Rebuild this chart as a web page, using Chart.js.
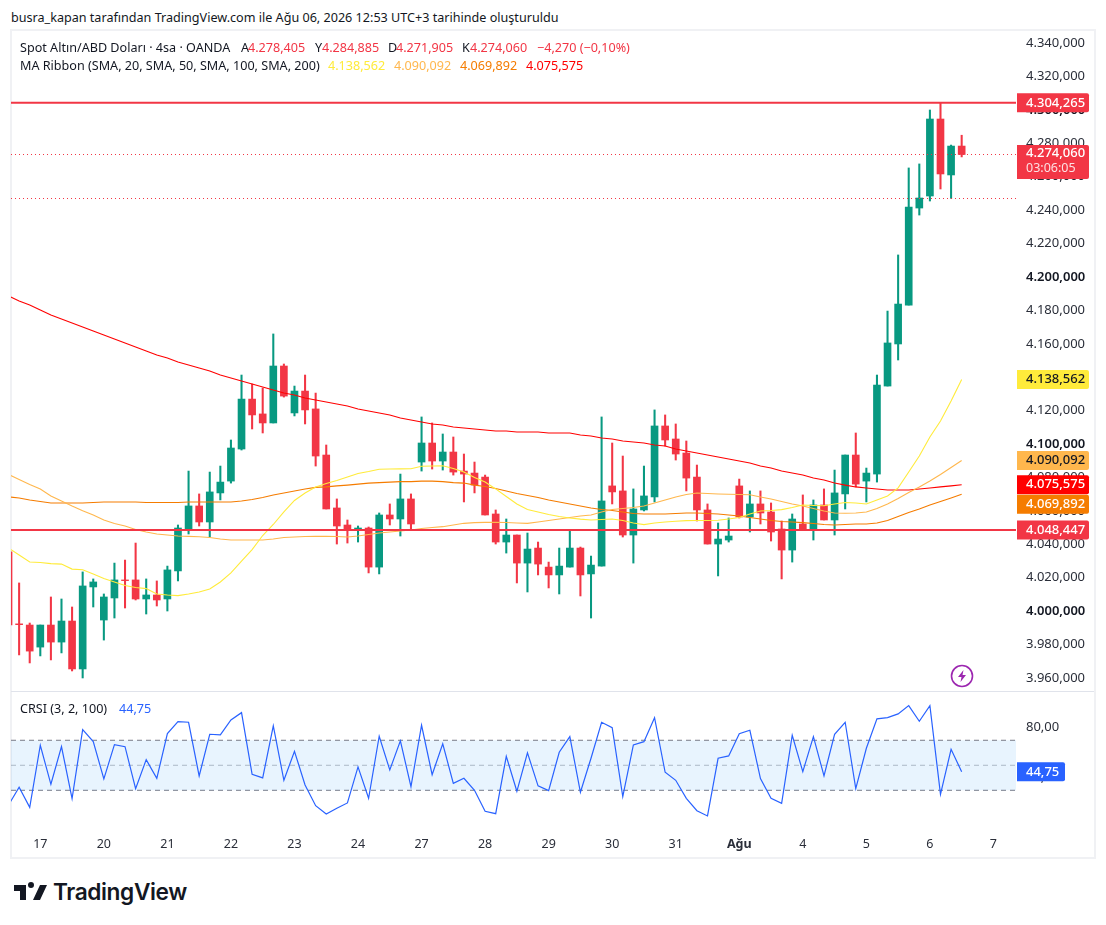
<!DOCTYPE html>
<html><head><meta charset="utf-8">
<script src="https://cdn.jsdelivr.net/npm/chart.js@4"></script>
<style>
html,body{margin:0;padding:0;background:#fff;width:1106px;height:925px;overflow:hidden;font-family:"Noto Sans",sans-serif;color:#131722}
.t{position:absolute;white-space:nowrap;font-size:12.6px;line-height:16px}
#frame{position:absolute;left:10px;top:29px;width:1082px;height:826px;border:2px solid #f0f1f4}
#sep{position:absolute;left:11px;top:691px;width:1083px;height:1px;background:#e0e3eb}
canvas{position:absolute}
#c1{left:11px;top:30px}
#c2{left:11px;top:692px}
</style></head><body>
<div class="t" id="title" style="left:11px;top:10px"></div>
<div id="frame"></div><div id="sep"></div>
<canvas id="c1" width="1084" height="661" style="width:1084px;height:661px"></canvas>
<canvas id="c2" width="1084" height="166" style="width:1084px;height:166px"></canvas>
<div id="legend"></div>
<svg style="position:absolute;left:950px;top:664px" width="24" height="24" viewBox="0 0 24 24"><circle cx="12" cy="12" r="10.5" fill="#fff" stroke="#9c27b0" stroke-width="1.6"/><path d="M13.5 6 8 13h3.5l-1 5 5.5-7h-3.5z" fill="#9c27b0"/></svg>
<svg style="position:absolute;left:12px;top:879px" width="36" height="28" viewBox="0 0 36 28"><path fill="#131722" d="M14 6H2v6h6v9h6V6Zm14 15h-7l7-15h7l-7 15Zm-6-15a3 3 0 1 1-6 0 3 3 0 0 1 6 0Z"/></svg>
<div class="t" style="left:53px;top:878px;font:600 22.7px/28px Inter,sans-serif;letter-spacing:-.4px;color:#131722">TradingView</div>
<script>
// ---------- data (prices) ----------
const firstIndex = -3;
const opens  = [4035.5,3992.3,3991.6,3978.4,3991.6,3981.4,3994.0,3965.3,4014.4,3994.6,4007.8,4018.6,4018.6,4007.2,4009.6,4007.2,4024.0,4049.1,4062.9,4053.3,4070.7,4077.8,4097.0,4126.9,4118.0,4112.6,4146.7,4118.6,4131.7,4121.0,4093.4,4061.7,4051.5,4048.1,4049.7,4026.3,4057.5,4055.1,4067.1,4089.2,4100.6,4089.8,4095.2,4083.8,4082.6,4080.2,4058.1,4041.3,4045.5,4028.7,4037.7,4026.3,4021.6,4026.3,4037.7,4022.2,4026.9,4074.9,4071.9,4045.5,4060.5,4068.3,4110.8,4103.0,4094.6,4080.2,4060.5,4040.1,4042.5,4074.9,4056.3,4064.1,4059.3,4049.1,4036.5,4052.1,4048.5,4063.5,4054.5,4070.1,4093.4,4077.8,4082.0,4134.7,4159.9,4183.2,4241.3,4248.5,4294.6,4261.1,4278.405];
const highs  = [4035.5,4016.8,3992.8,3991.6,4008.4,4007.2,4002.4,4023.4,4019.2,4010.2,4028.7,4030.5,4040.7,4019.2,4018.0,4026.9,4051.5,4083.8,4070.1,4083.2,4086.8,4102.4,4141.3,4135.9,4133.5,4165.9,4147.9,4134.7,4141.3,4130.5,4099.4,4067.1,4054.5,4050.9,4050.3,4058.7,4064.1,4082.0,4070.1,4116.2,4112.6,4106.0,4104.2,4094.0,4089.2,4081.4,4060.5,4055.1,4045.5,4046.7,4041.3,4029.3,4037.7,4047.9,4038.3,4032.9,4116.2,4100.6,4092.8,4073.1,4086.8,4120.4,4117.4,4112.0,4101.8,4087.4,4064.1,4052.7,4055.7,4079.0,4071.9,4071.9,4064.7,4053.9,4058.1,4069.5,4066.5,4073.1,4084.4,4093.4,4106.6,4085.6,4141.3,4179.6,4213.2,4265.3,4267.7,4300.0,4304.265,4279.0,4284.885];
const lows   = [3991.6,3973.7,3968.9,3973.1,3970.7,3974.9,3964.1,3959.9,4002.4,3982.6,3995.8,4001.8,4006.6,3998.2,4003.0,4000.0,4018.0,4046.1,4050.9,4044.3,4066.5,4076.6,4096.4,4109.0,4106.6,4112.6,4128.1,4116.8,4112.0,4086.8,4061.1,4040.1,4040.7,4041.3,4022.8,4022.2,4051.5,4044.9,4048.5,4083.8,4085.0,4084.4,4081.4,4065.3,4070.7,4057.5,4040.1,4034.7,4016.8,4011.4,4021.6,4013.8,4010.2,4026.3,4009.0,3995.8,4026.9,4064.1,4044.3,4028.7,4059.9,4065.3,4098.8,4090.4,4071.9,4053.9,4040.1,4021.0,4041.3,4055.7,4047.3,4052.1,4041.9,4019.2,4029.3,4048.5,4042.5,4054.5,4045.5,4061.1,4074.3,4065.3,4077.2,4134.7,4150.3,4183.2,4237.1,4245.5,4252.7,4247.1,4271.905];
const closes = [3991.6,3991.8,3976.0,3991.6,3981.4,3994.0,3965.3,4015.0,4017.4,4008.4,4018.6,4018.2,4007.2,4009.6,4006.6,4024.6,4049.7,4062.9,4053.3,4071.3,4077.2,4097.6,4126.9,4117.4,4112.6,4146.7,4128.7,4131.7,4120.4,4092.8,4061.1,4050.9,4048.5,4049.7,4026.3,4057.5,4055.1,4067.1,4052.1,4100.6,4089.8,4095.2,4083.2,4082.0,4075.4,4057.5,4041.3,4045.5,4028.7,4037.1,4028.1,4021.6,4026.9,4037.7,4021.6,4027.5,4065.9,4071.3,4045.5,4061.1,4068.9,4110.8,4102.4,4094.0,4079.6,4060.5,4040.1,4043.1,4044.9,4056.3,4064.1,4058.7,4047.3,4036.5,4055.1,4048.5,4063.5,4054.5,4070.7,4093.4,4076.0,4082.6,4135.3,4160.5,4183.8,4241.9,4247.3,4294.6,4261.7,4278.4,4273.35];
const sma20  = [4037.7,4033.5,4029.3,4029.0,4028.4,4028.1,4025.1,4024.7,4022.2,4019.5,4017.4,4015.3,4014.1,4013.4,4010.2,4009.6,4009.2,4010.2,4011.4,4013.2,4017.4,4022.8,4029.9,4036.8,4045.2,4051.8,4059.3,4066.2,4070.7,4074.3,4076.3,4078.1,4080.2,4082.3,4083.5,4084.9,4085.0,4085.1,4085.2,4086.7,4086.8,4087.0,4085.3,4083.2,4079.9,4077.2,4073.1,4068.6,4064.1,4060.8,4059.3,4057.8,4056.6,4055.7,4055.0,4054.5,4054.8,4055.1,4054.2,4052.7,4051.7,4052.7,4053.3,4053.7,4054.1,4054.2,4054.2,4054.3,4055.1,4056.0,4058.1,4059.9,4060.2,4060.7,4062.0,4063.5,4063.2,4063.0,4064.1,4065.0,4064.7,4064.1,4066.5,4068.9,4073.7,4083.2,4092.8,4104.2,4113.8,4125.7,4138.562];
const sma50  = [4081.7,4078.7,4075.7,4073.1,4068.9,4065.9,4062.9,4060.1,4057.5,4054.5,4052.4,4050.9,4048.8,4047.3,4046.1,4045.5,4044.9,4044.7,4044.5,4044.0,4043.1,4042.5,4042.5,4042.5,4042.5,4043.1,4044.0,4044.3,4044.6,4044.7,4044.7,4044.6,4044.3,4044.9,4045.8,4046.7,4047.3,4047.9,4048.5,4049.4,4050.0,4050.5,4051.5,4052.5,4052.9,4053.1,4053.1,4053.0,4052.7,4052.5,4053.3,4054.2,4055.1,4056.0,4056.9,4057.5,4059.3,4060.8,4061.4,4062.0,4062.9,4064.7,4066.5,4068.3,4069.8,4070.7,4070.4,4070.1,4069.9,4069.8,4069.6,4068.3,4067.1,4065.6,4064.1,4062.9,4061.4,4059.9,4058.7,4058.5,4058.7,4059.3,4061.4,4064.1,4067.4,4071.0,4074.3,4077.8,4081.7,4085.9,4090.092];
const sma100 = [4068.3,4067.7,4066.5,4065.6,4064.7,4064.7,4064.7,4064.7,4065.0,4065.3,4065.3,4065.3,4065.3,4065.0,4065.0,4065.0,4065.0,4065.3,4065.3,4065.3,4065.3,4065.3,4065.9,4066.8,4068.0,4069.5,4070.7,4071.9,4073.1,4074.0,4074.3,4074.9,4075.4,4076.0,4076.6,4076.9,4077.2,4077.5,4077.5,4077.8,4077.8,4077.5,4076.9,4076.6,4075.4,4074.6,4073.4,4071.9,4070.4,4069.2,4068.0,4066.5,4065.3,4064.1,4062.9,4061.7,4060.8,4060.2,4059.3,4058.4,4058.1,4058.1,4058.1,4058.4,4058.7,4058.7,4058.4,4058.1,4057.5,4056.9,4056.0,4055.1,4054.2,4053.6,4053.3,4052.9,4052.4,4051.8,4051.5,4051.8,4052.1,4052.1,4052.7,4054.2,4056.6,4059.0,4061.1,4063.5,4065.6,4067.7,4069.892];
const sma200 = [4188.6,4185.6,4183.2,4180.2,4177.2,4174.8,4172.5,4170.1,4167.7,4165.3,4162.9,4160.5,4158.1,4155.7,4153.3,4151.5,4149.1,4147.3,4145.5,4143.7,4141.3,4139.5,4137.7,4135.9,4134.1,4132.3,4130.5,4129.3,4127.5,4126.3,4125.1,4124.0,4122.8,4121.0,4119.8,4118.6,4117.4,4115.6,4114.4,4113.2,4112.0,4111.4,4110.2,4109.6,4109.0,4108.4,4107.8,4107.8,4107.2,4107.2,4107.2,4106.6,4106.6,4106.6,4105.4,4104.8,4103.6,4103.0,4101.8,4101.2,4100.6,4099.4,4098.8,4097.0,4095.8,4094.6,4093.4,4092.2,4091.0,4089.8,4088.6,4086.8,4085.6,4083.8,4082.6,4081.4,4079.6,4078.4,4076.6,4075.4,4074.3,4073.7,4073.1,4072.5,4072.5,4072.5,4073.1,4073.7,4074.3,4074.9,4075.575];
const crsi   = [18.3,32.4,16.4,66.0,34.8,64.9,23.3,78.5,68.9,39.1,66.5,64.9,31.3,54.5,39.6,75.3,84.9,84.4,41.5,74.8,74.3,86.3,92.1,42.8,39.9,81.5,38.0,61.2,34.3,17.7,11.1,15.6,19.9,48.7,23.6,73.2,46.3,69.5,32.9,82.0,42.5,67.1,35.6,39.6,30.0,13.2,11.3,57.2,29.2,59.9,33.5,29.7,60.4,72.9,28.4,55.6,84.4,80.1,24.9,66.3,68.9,88.1,44.4,38.0,23.6,13.7,9.5,55.6,57.5,75.3,78.0,39.3,23.6,19.6,74.0,44.9,72.9,41.5,74.8,84.4,31.3,63.6,87.1,88.1,91.1,97.7,85.2,97.7,26.8,62.8,44.75];
const priceTicks = [3960,3980,4000,4020,4040,4060,4080,4100,4120,4140,4160,4180,4200,4220,4240,4260,4280,4300,4320,4340];
const crsiTicks = [40,80];
const crsiBand = [70,50,30];
const dayTicks = [0,6,12,18,24,30,36,42,48,54,60,66,72,78,84,90];
const dayLabels = ['17','20','21','22','23','24','27','28','29','30','31','Ağu','4','5','6','7'];
const levelHigh = 4304.265, levelLow = 4048.447, lastClose = 4274.06, closeLine = 4273.35, dottedLow = 4247.0, lastCrsi = 44.75;
const titleText = 'busra_kapan tarafından TradingView.com ile Ağu 06, 2026 12:53 UTC+3 tarihinde oluşturuldu';

// ---------- style / layout ----------
const UP='#089981', DOWN='#F23645', Y20='#FFEB3B', O50='#FFB74D', O100='#F57C00', R200='#FF0000', BLUE='#2962FF';
const FONT='"Noto Sans",sans-serif';
const xMin=-2.767, xMax=92.13;
const fmt=v=>v.toLocaleString('tr-TR',{minimumFractionDigits:3,maximumFractionDigits:3});
const idx=opens.map((_,k)=>k+firstIndex);
const colors=opens.map((o,k)=>closes[k]>=o?UP:DOWN);
const lineDs=(arr,c)=>({type:'line',data:arr.map((v,k)=>({x:idx[k],y:v})),borderColor:c,borderWidth:1.1,pointRadius:0,tension:0,order:1});
const hLine=(v,c,w,dash)=>({type:'line',data:[{x:xMin,y:v},{x:xMax,y:v}],borderColor:c,borderWidth:w,borderDash:dash||[],pointRadius:0,order:0});

function noPad(s){s.paddingTop=0;s.paddingBottom=0;s.paddingLeft=0;s.paddingRight=0;}
function rr(c,x,y,w,h){c.beginPath();c.roundRect(x,y,w,h,[0,2,2,0]);c.fill();}
const priceLabels=[
 {v:levelHigh,bg:DOWN,fg:'#fff'},
 {v:sma20[sma20.length-1],bg:Y20,fg:'#131722'},
 {v:sma50[sma50.length-1],bg:O50,fg:'#131722'},
 {v:sma200[sma200.length-1],bg:'#FF0000',fg:'#fff'},
 {v:sma100[sma100.length-1],bg:O100,fg:'#fff',dy:10},
 {v:levelLow,bg:DOWN,fg:'#fff'}
];
const labelPlugin={id:'labels',afterDraw(ch){
  const c=ch.ctx,s=ch.scales.y,L=ch.chartArea.right+1,W=72;
  c.save();c.textBaseline='middle';c.textAlign='left';c.font='500 13px '+FONT;
  priceLabels.forEach(p=>{const y=s.getPixelForValue(p.v)+(p.dy||0);
    c.fillStyle=p.bg;rr(c,L,y-9.5,W,19);c.fillStyle=p.fg;c.fillText(fmt(p.v),L+9,y);});
  const y=s.getPixelForValue(closeLine);
  c.fillStyle=DOWN;rr(c,L,y-9.5,W,34);
  c.fillStyle='#fff';c.fillText(fmt(lastClose),L+9,y-1);
  c.font='12.5px '+FONT;c.fillStyle='#fde0e3';c.fillText('03:06:05',L+9,y+14);
  c.restore();
}};
const crsiLabel={id:'crsiLabel',afterDraw(ch){
  const c=ch.ctx,s=ch.scales.y,L=ch.chartArea.right+1,y=s.getPixelForValue(lastCrsi);
  c.save();c.fillStyle=BLUE;rr(c,L,y-9.5,48,19);c.fillStyle='#fff';c.font='500 13px '+FONT;c.textBaseline='middle';c.fillText('44,75',L+9,y);c.restore();
}};

new Chart(document.getElementById('c1'),{
 data:{datasets:[
  {type:'bar',data:idx.map((x,k)=>({x,y:[lows[k],highs[k]]})),backgroundColor:colors,barThickness:1.4,grouped:false,order:3},
  {type:'bar',data:idx.map((x,k)=>({x,y:[Math.min(opens[k],closes[k]),Math.max(opens[k],closes[k])]})),backgroundColor:colors,barThickness:7,grouped:false,order:2},
  lineDs(sma20,Y20),lineDs(sma50,O50),lineDs(sma100,O100),lineDs(sma200,R200),
  hLine(levelHigh,DOWN,2),hLine(levelLow,DOWN,2),
  hLine(closeLine,DOWN,1,[1,3]),hLine(dottedLow,DOWN,1,[1,3])
 ]},
 plugins:[labelPlugin],
 options:{responsive:false,animation:false,devicePixelRatio:1,events:[],
  layout:{padding:0},
  plugins:{legend:{display:false},tooltip:{enabled:false}},
  scales:{
   x:{type:'linear',min:xMin,max:xMax,offset:false,display:false,grid:{display:false}},
   y:{type:'linear',position:'right',min:3952.1,max:4347.9,
      afterBuildTicks(s){s.ticks=priceTicks.map(v=>({value:v}));},
      afterFit(s){s.width=79;noPad(s);},
      grid:{display:false,drawTicks:false},border:{display:false},
      ticks:{padding:10,autoSkip:false,mirror:false,callback:v=>fmt(v),
        color:c=>c.tick&&c.tick.value%100===0?'#131722':'#2a2e39',
        font:c=>({family:FONT,size:13,weight:c.tick&&c.tick.value%100===0?'600':'400'})}}
  }}
});

new Chart(document.getElementById('c2'),{
 data:{datasets:[
  {type:'line',data:idx.map((x,k)=>({x,y:crsi[k]})),borderColor:BLUE,borderWidth:1.2,pointRadius:0,tension:0,order:0},
  {type:'line',data:[{x:xMin,y:crsiBand[0]},{x:xMax,y:crsiBand[0]}],borderColor:'#787B86',borderWidth:1,borderDash:[5,4],pointRadius:0,fill:{target:{value:crsiBand[2]},above:'rgba(33,150,243,0.1)',below:'rgba(33,150,243,0.1)'},order:2},
  {type:'line',data:[{x:xMin,y:crsiBand[1]},{x:xMax,y:crsiBand[1]}],borderColor:'rgba(120,123,134,0.5)',borderWidth:1,borderDash:[5,4],pointRadius:0,order:2},
  {type:'line',data:[{x:xMin,y:crsiBand[2]},{x:xMax,y:crsiBand[2]}],borderColor:'#787B86',borderWidth:1,borderDash:[5,4],pointRadius:0,order:2}
 ]},
 plugins:[crsiLabel],
 options:{responsive:false,animation:false,devicePixelRatio:1,events:[],
  layout:{padding:0},
  plugins:{legend:{display:false},tooltip:{enabled:false}},
  scales:{
   x:{type:'linear',min:xMin,max:xMax,
      afterBuildTicks(s){s.ticks=dayTicks.map(v=>({value:v}));},
      afterFit(s){s.height=28;noPad(s);},
      grid:{display:false,drawTicks:false},border:{display:false},
      ticks:{autoSkip:false,maxRotation:0,padding:7,callback:v=>dayLabels[dayTicks.indexOf(v)],
        color:'#2a2e39',
        font:c=>({family:FONT,size:12.5,weight:c.tick&&c.tick.value===66?'700':'400'})}},
   y:{type:'linear',position:'right',min:-1.76,max:108.6,
      afterBuildTicks(s){s.ticks=crsiTicks.map(v=>({value:v}));},
      afterFit(s){s.width=79;noPad(s);},
      grid:{display:false,drawTicks:false},border:{display:false},
      ticks:{padding:10,color:'#2a2e39',font:{family:FONT,size:13},callback:v=>v.toLocaleString('tr-TR',{minimumFractionDigits:2})}}
  }}
});

// ---------- text ----------
document.getElementById('title').textContent=titleText;
const legendItems=[
 ['Spot Altın/ABD Doları · 4sa · OANDA',20,47,'#131722'],['A',241,47,'#131722'],['4.278,405',248,47,DOWN],['Y',315,47,'#131722'],['4.284,885',322,47,DOWN],
 ['D',388,47,'#131722'],['4.271,905',396,47,DOWN],['K',462,47,'#131722'],['4.274,060',470,47,DOWN],['−4,270 (−0,10%)',537,47,DOWN],
 ['MA Ribbon (SMA, 20, SMA, 50, SMA, 100, SMA, 200)',20,65,'#131722'],['4.138,562',328,65,Y20],['4.090,092',394,65,O50],['4.069,892',460,65,O100],['4.075,575',526,65,R200],
 ['CRSI (3, 2, 100)',20,708,'#131722'],['44,75',119,708,BLUE]
];
const L=document.getElementById('legend');
legendItems.forEach(([t,x,y,c])=>{const d=document.createElement('div');d.className='t';d.textContent=t;d.style.left=x+'px';d.style.top=(y-7)+'px';d.style.color=c;L.appendChild(d);});
</script>
</body></html>
